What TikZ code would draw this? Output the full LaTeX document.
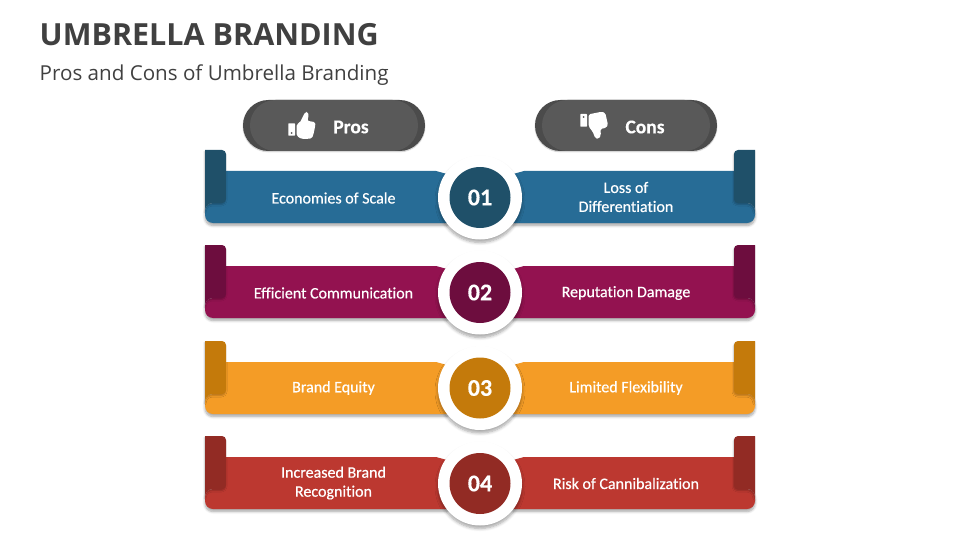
\documentclass[tikz,border=0pt]{standalone}
\usepackage{fontspec}
\usepackage{xcolor}
\setmainfont[RawFeature=-liga]{Carlito}
\newfontfamily\headfont{Open Sans}
\newfontfamily\bandfont[FakeBold=0.5,RawFeature=-liga]{Carlito}
\newfontfamily\heavyfont[BoldFeatures={FakeBold=0.3}]{Carlito}
\usetikzlibrary{shadows.blur}
\definecolor{blueband}{HTML}{276C96}
\definecolor{bluedark}{HTML}{1F5069}
\definecolor{plumband}{HTML}{931250}
\definecolor{plumdark}{HTML}{6D0D3E}
\definecolor{amberband}{HTML}{F49C26}
\definecolor{amberdark}{HTML}{C47A0B}
\definecolor{redband}{HTML}{BC3830}
\definecolor{reddark}{HTML}{922B24}
\definecolor{pillface}{HTML}{595959}
\definecolor{pilledge}{HTML}{4B4B4B}
\definecolor{inktitle}{HTML}{404040}
\tikzset{
  softshade/.style={blur shadow={shadow xshift=0pt,shadow yshift=-2.5pt,shadow blur radius=2.5pt,shadow blur steps=6,shadow opacity=35}},
  tabshade/.style={blur shadow={shadow xshift=-0.5pt,shadow yshift=-1.5pt,shadow blur radius=1.5pt,shadow blur steps=5,shadow opacity=25}},
  bandtext/.style={text=white,font=\bandfont\fontsize{16}{19}\selectfont,align=center,inner sep=0pt},
  ringdot/.style={circle,fill=white,minimum size=84pt,inner sep=0pt,blur shadow={shadow xshift=0pt,shadow yshift=-3pt,shadow blur radius=3pt,shadow blur steps=6,shadow opacity=35}},
  numdot/.style={circle,minimum size=61pt,inner sep=0pt,text=white,font=\heavyfont\bfseries\fontsize{24}{24}\selectfont},
  pillback/.style={rectangle,fill=pilledge,minimum width=182pt,minimum height=51pt,rounded corners=25.4pt,inner sep=0pt,blur shadow={shadow xshift=0pt,shadow yshift=-0.8pt,shadow blur radius=1pt,shadow blur steps=4,shadow opacity=25}},
  pillfront/.style={rectangle,fill=pillface,minimum width=168pt,minimum height=51pt,rounded corners=25.4pt,inner sep=0pt},
  pilltext/.style={text=white,font=\heavyfont\bfseries\fontsize{19.5}{19.5}\selectfont,inner sep=0pt}
}
\begin{document}
\begin{tikzpicture}[x=1pt,y=-1pt]
\useasboundingbox (0,0) rectangle (960,540);
\node[anchor=west,inner sep=0pt,text=inktitle,font=\headfont\bfseries\fontsize{30.5}{30.5}\selectfont] (title) at (39.5,34.5) {UMBRELLA BRANDING};
\node[anchor=west,inner sep=0pt,text=inktitle,font=\headfont\fontsize{20.6}{20.6}\selectfont] (subtitle) at (39.5,75.5) {Pros and Cons of Umbrella Branding};
% header pills
\node[pillback] (prosback) at (334,125.5) {};
\node[pillfront] (prosfront) at (334,125.5) {};
\node[pilltext] (pros) at (351,127) {Pros};
\node[pillback] (consback) at (626,125.5) {};
\node[pillfront] (consfront) at (626,125.5) {};
\node[pilltext] (cons) at (645,127) {Cons};
% thumbs
\fill[white,rounded corners=0.6pt] (288.3,123.3) -- (295,123.3) -- (295,135.7) -- (288.3,135.7) -- cycle;
\fill[pillface] (291.6,133) circle (0.9);
\fill[white,rounded corners=1.6pt] (296.7,124) -- (300,122.5) -- (305,112.3) -- (307.7,111.6) -- (308.8,116.7) -- (307,120.7) -- (315.5,122.3) -- (315,127) -- (313.3,135) -- (311.7,138.6) -- (301.7,139) -- (296.7,136) -- cycle;
\fill[white,rounded corners=0.6pt] (580.3,114) -- (587,114) -- (587,126.7) -- (580.3,126.7) -- cycle;
\fill[pillface] (583.6,117) circle (0.9);
\fill[white,rounded corners=1.6pt] (588.7,114.3) -- (602,111.7) -- (605.3,113) -- (608,125) -- (606.3,127.7) -- (600.3,129) -- (601,135) -- (598.7,139) -- (595.3,138.3) -- (592.7,131.7) -- (588.7,126.7) -- cycle;
% row 01
\fill[blueband,softshade] (215,171) -- (436,171) -- (447,174) -- (447,223) [rounded corners=8pt] -- (205,223) -- (205,203) [sharp corners] -- (215,203) -- cycle;
\fill[blueband,softshade] (745,171) -- (524,171) -- (513,174) -- (513,223) [rounded corners=8pt] -- (755,223) -- (755,203) [sharp corners] -- (745,203) -- cycle;
\fill[bluedark,tabshade] (205,150) [rounded corners=4pt] -- (226,150) -- (226,203) [sharp corners] -- (213,203) .. controls (208.6,203) and (205,206.6) .. (205,211) -- cycle;
\fill[bluedark,tabshade] (755,150) [rounded corners=4pt] -- (734,150) -- (734,203) [sharp corners] -- (747,203) .. controls (751.4,203) and (755,206.6) .. (755,211) -- cycle;
\node[ringdot] (ring1) at (480,197.5) {};
\node[numdot,fill=bluedark] (num1) at (480,197.5) {01};
\node[bandtext] (pro1) at (333.5,198) {Economies of Scale};
\node[bandtext] (con1) at (626,197) {Loss of\\Differentiation};
% row 02
\fill[plumband,softshade] (215,266) -- (436,266) -- (447,269) -- (447,318) [rounded corners=8pt] -- (205,318) -- (205,298) [sharp corners] -- (215,298) -- cycle;
\fill[plumband,softshade] (745,266) -- (524,266) -- (513,269) -- (513,318) [rounded corners=8pt] -- (755,318) -- (755,298) [sharp corners] -- (745,298) -- cycle;
\fill[plumdark,tabshade] (205,245) [rounded corners=4pt] -- (226,245) -- (226,298) [sharp corners] -- (213,298) .. controls (208.6,298) and (205,301.6) .. (205,306) -- cycle;
\fill[plumdark,tabshade] (755,245) [rounded corners=4pt] -- (734,245) -- (734,298) [sharp corners] -- (747,298) .. controls (751.4,298) and (755,301.6) .. (755,306) -- cycle;
\node[ringdot] (ring2) at (480,292.5) {};
\node[numdot,fill=plumdark] (num2) at (480,292.5) {02};
\node[bandtext] (pro2) at (333.5,293) {Efficient Communication};
\node[bandtext] (con2) at (626,293) {Reputation Damage};
% row 03
\fill[amberband,softshade] (215,362) -- (436,362) -- (447,365) -- (447,414) [rounded corners=8pt] -- (205,414) -- (205,394) [sharp corners] -- (215,394) -- cycle;
\fill[amberband,softshade] (745,362) -- (524,362) -- (513,365) -- (513,414) [rounded corners=8pt] -- (755,414) -- (755,394) [sharp corners] -- (745,394) -- cycle;
\fill[amberdark,tabshade] (205,341) [rounded corners=4pt] -- (226,341) -- (226,394) [sharp corners] -- (213,394) .. controls (208.6,394) and (205,397.6) .. (205,402) -- cycle;
\fill[amberdark,tabshade] (755,341) [rounded corners=4pt] -- (734,341) -- (734,394) [sharp corners] -- (747,394) .. controls (751.4,394) and (755,397.6) .. (755,402) -- cycle;
\node[ringdot] (ring3) at (480,388) {};
\node[numdot,fill=amberdark] (num3) at (480,388) {03};
\node[bandtext] (pro3) at (333.5,388) {Brand Equity};
\node[bandtext] (con3) at (626,388) {Limited Flexibility};
% row 04
\fill[redband,softshade] (215,457) -- (436,457) -- (447,460) -- (447,509) [rounded corners=8pt] -- (205,509) -- (205,489) [sharp corners] -- (215,489) -- cycle;
\fill[redband,softshade] (745,457) -- (524,457) -- (513,460) -- (513,509) [rounded corners=8pt] -- (755,509) -- (755,489) [sharp corners] -- (745,489) -- cycle;
\fill[reddark,tabshade] (205,436) [rounded corners=4pt] -- (226,436) -- (226,489) [sharp corners] -- (213,489) .. controls (208.6,489) and (205,492.6) .. (205,497) -- cycle;
\fill[reddark,tabshade] (755,436) [rounded corners=4pt] -- (734,436) -- (734,489) [sharp corners] -- (747,489) .. controls (751.4,489) and (755,492.6) .. (755,497) -- cycle;
\node[ringdot] (ring4) at (480,483.5) {};
\node[numdot,fill=reddark] (num4) at (480,483.5) {04};
\node[bandtext] (pro4) at (333.5,483) {Increased Brand\\Recognition};
\node[bandtext] (con4) at (626,483.5) {Risk of Cannibalization};
\end{tikzpicture}
\end{document}
